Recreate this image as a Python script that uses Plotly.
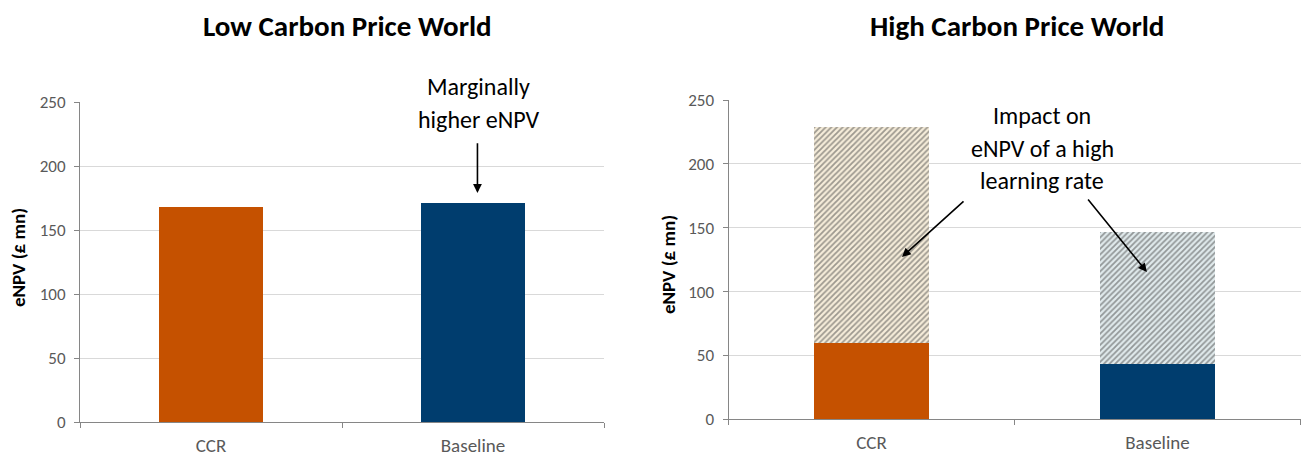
import plotly.graph_objects as go

# Scenario categories
categories = ["CCR", "Baseline"]

# Low carbon price world: eNPV (£ mn)
low_enpv = [168, 171]

# High carbon price world: base eNPV and total with a high learning rate (£ mn)
high_enpv_base = [60, 43]
high_enpv_learning = [229, 147]

tick_vals = [0, 50, 100, 150, 200, 250]

ORANGE = "#C55100"
NAVY = "#003D6E"
FONT = "Calibri, Carlito, Lato, sans-serif"
TICK_COLOR = "#595959"
AXIS_COLOR = "#868686"
GRID_COLOR = "#D9D9D9"

W, H = 1306, 456

fig = go.Figure()

# Left panel
fig.add_trace(go.Bar(
    x=categories, y=low_enpv, xaxis="x", yaxis="y",
    marker=dict(color=[ORANGE, NAVY], line=dict(width=0)),
    width=0.4, showlegend=False, hoverinfo="x+y",
))

# Right panel: solid base part
fig.add_trace(go.Bar(
    x=categories, y=high_enpv_base, xaxis="x2", yaxis="y2",
    marker=dict(color=[ORANGE, NAVY], line=dict(width=0)),
    width=0.4, showlegend=False,
))

# Right panel: hatched uplift from a high learning rate
uplift = [t - b for t, b in zip(high_enpv_learning, high_enpv_base)]
fig.add_trace(go.Bar(
    x=categories, y=uplift, xaxis="x2", yaxis="y2",
    marker=dict(
        color=["#F6EDDA", "#E0EAEC"],
        line=dict(width=0),
        pattern=dict(shape="/", size=4, solidity=0.45,
                     fgcolor=["#A88C60", "#2E3E4A"],
                     bgcolor=["#F6EDDA", "#E0EAEC"],
                     fillmode="overlay"),
    ),
    width=0.4, showlegend=False,
))

xaxis_common = dict(
    type="category", showline=True, linecolor=AXIS_COLOR, linewidth=1,
    ticks="outside", tickson="boundaries", ticklen=5, tickcolor=AXIS_COLOR,
    showgrid=False, tickfont=dict(family=FONT, size=19, color=TICK_COLOR),
    ticklabelstandoff=6, fixedrange=True, range=[-0.5, 1.5], automargin=False,
)
yaxis_common = dict(
    range=[0, 250], tickvals=tick_vals, showline=True, linecolor=AXIS_COLOR,
    linewidth=1, ticks="outside", ticklen=5, tickcolor=AXIS_COLOR,
    gridcolor=GRID_COLOR, gridwidth=1, zeroline=False,
    tickfont=dict(family=FONT, size=17, color=TICK_COLOR),
    ticklabelstandoff=5, fixedrange=True, automargin=False,
)

fig.update_layout(
    width=W, height=H, margin=dict(l=0, r=0, t=0, b=0, pad=0),
    paper_bgcolor="white", plot_bgcolor="white",
    barmode="stack", bargap=0.6,
    font=dict(family=FONT, color="black"),
    xaxis=dict(domain=[80 / W, 604 / W], anchor="y", **xaxis_common),
    yaxis=dict(domain=[(H - 422) / H, (H - 102) / H], anchor="x", **yaxis_common),
    xaxis2=dict(domain=[728.5 / W, 1300.5 / W], anchor="y2", **xaxis_common),
    yaxis2=dict(domain=[(H - 419.3) / H, (H - 100) / H], anchor="x2", **yaxis_common),
)


def px_x(px):
    return px / W


def px_y(py):
    return 1 - py / H


annotations = []

# Panel titles
for text, xc in [("Low Carbon Price World", 347), ("High Carbon Price World", 1017)]:
    annotations.append(dict(
        text=f"<b>{text}</b>", x=px_x(xc), y=px_y(26), xref="paper", yref="paper",
        xanchor="center", yanchor="middle", showarrow=False,
        font=dict(family=FONT, size=29, color="black"),
    ))

# Y axis titles
for xc, yc in [(18, 258), (668, 265)]:
    annotations.append(dict(
        text="<b>eNPV (£ mn)</b>", x=px_x(xc), y=px_y(yc), xref="paper", yref="paper",
        xanchor="center", yanchor="middle", showarrow=False, textangle=-90,
        font=dict(family=FONT, size=19, color="black"),
    ))

# Callout text
callouts = [
    ("Marginally", 478, 86), ("higher eNPV", 478, 120),
    ("Impact on", 1042, 115), ("eNPV of a high", 1042, 148), ("learning rate", 1042, 181),
]
for line, xc, yc in callouts:
    annotations.append(dict(
        text=line, x=px_x(xc), y=px_y(yc), xref="paper", yref="paper",
        showarrow=False, xanchor="center", yanchor="middle",
        font=dict(family=FONT, size=24, color="black"),
    ))

# Callout arrows (head, tail) in data coordinates
arrows = [
    ("x", "y", (1.017, 179), (1.017, 219)),
    ("x2", "y2", (0.1066, 127.1), (0.327, 171.7)),
    ("x2", "y2", (0.963, 115.3), (0.753, 173.3)),
]
for xr, yr, (hx, hy), (tx, ty) in arrows:
    annotations.append(dict(
        x=hx, y=hy, ax=tx, ay=ty, xref=xr, yref=yr, axref=xr, ayref=yr,
        text="", showarrow=True, arrowhead=2, arrowsize=1.1, arrowwidth=1.6,
        arrowcolor="black", standoff=0, startstandoff=0,
    ))

fig.update_layout(annotations=annotations)

# Page body without default margin so the figure sits flush in the window
fig.write_html(
    "out.html",
    post_script="document.body.style.margin='0';document.body.style.overflow='hidden';",
)
